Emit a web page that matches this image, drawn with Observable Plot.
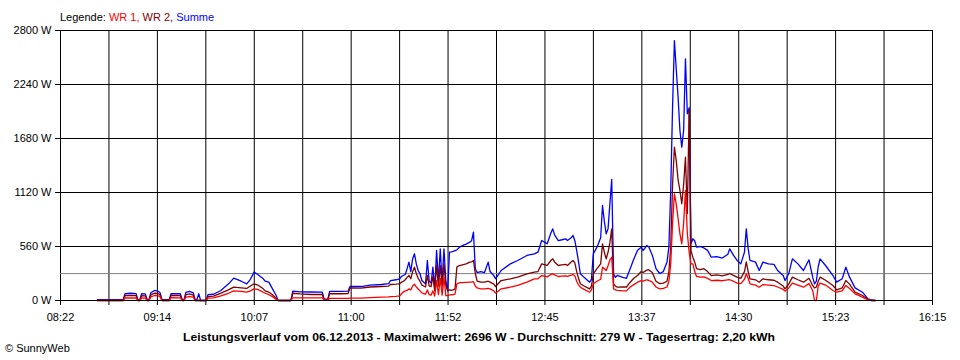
<!DOCTYPE html>
<html>
<head>
<meta charset="utf-8">
<script src="https://cdn.jsdelivr.net/npm/d3@7"></script>
<script src="https://cdn.jsdelivr.net/npm/@observablehq/plot@0.6"></script>
<style>
  html, body { margin: 0; padding: 0; background: #fff; }
  #chart { width: 960px; height: 360px; }
</style>
</head>
<body>
<div id="chart"></div>
<script>
// ---- data ----
const times = ["08:42","08:56","08:57","09:00","09:03","09:04","09:05","09:06","09:08","09:09","09:10","09:11","09:13","09:15","09:16","09:17","09:21","09:22","09:27","09:28","09:29","09:30","09:32","09:34","09:35","09:36","09:37","09:38","09:41","09:42","09:45","09:49","09:53","09:56","10:00","10:03","10:05","10:07","10:09","10:12","10:13","10:15","10:17","10:19","10:20","10:27","10:28","10:32","10:38","10:44","10:45","10:47","10:48","10:54","10:58","10:59","11:05","11:10","11:16","11:20","11:21","11:24","11:25","11:26","11:27","11:28","11:29","11:30","11:31","11:32","11:33","11:34","11:35","11:36","11:37","11:38","11:39","11:40","11:41","11:42","11:43","11:44","11:45","11:46","11:47","11:48","11:49","11:50","11:51","11:52","11:53","11:54","11:55","11:56","11:57","11:58","11:59","12:00","12:02","12:04","12:05","12:06","12:07","12:08","12:10","12:12","12:14","12:15","12:17","12:18","12:21","12:26","12:30","12:35","12:39","12:41","12:43","12:45","12:46","12:48","12:49","12:50","12:52","12:54","12:56","12:57","12:59","13:00","13:01","13:02","13:03","13:04","13:06","13:09","13:10","13:11","13:13","13:15","13:16","13:17","13:18","13:19","13:20","13:21","13:22","13:23","13:24","13:27","13:29","13:31","13:33","13:35","13:37","13:38","13:40","13:41","13:43","13:45","13:47","13:49","13:51","13:52","13:53","13:54","13:55","13:56","13:57","13:58","13:59","14:00","14:01","14:02","14:03","14:04","14:05","14:06","14:07","14:09","14:11","14:13","14:15","14:18","14:21","14:24","14:25","14:27","14:29","14:31","14:33","14:34","14:35","14:36","14:39","14:41","14:43","14:46","14:49","14:51","14:54","14:55","14:57","14:59","15:02","15:05","15:08","15:10","15:11","15:12","15:13","15:14","15:17","15:21","15:23","15:26","15:28","15:30","15:33","15:37","15:40","15:42","15:44"];

const summe = [10,12,70,75,72,5,5,70,68,10,10,80,104,95,80,10,10,72,70,10,10,85,95,80,10,10,70,0,0,60,65,104,170,232,200,173,220,294,270,225,200,190,120,52,0,0,97,90,88,86,15,15,95,95,97,145,145,160,166,175,207,215,220,225,250,259,270,330,398,300,432,484,380,311,277,207,190,173,415,200,180,346,121,520,200,536,180,536,207,100,501,505,510,518,525,545,560,570,585,605,620,709,330,290,300,290,398,300,260,225,311,380,415,467,484,501,622,600,588,700,743,680,622,630,640,622,650,674,620,518,400,277,240,190,220,484,553,650,985,820,691,743,1000,1255,277,240,260,240,230,330,430,520,553,518,570,560,470,330,280,300,400,553,1141,2005,2696,2400,2109,1763,1590,1763,2506,1936,2000,588,640,620,553,560,545,520,449,455,440,480,536,470,415,380,500,743,540,415,398,311,398,380,375,311,260,207,277,432,380,311,422,242,173,200,350,432,363,259,190,225,346,242,131,86,17,5,0];

const wr2 = [0,0,50,52,50,0,0,50,48,0,0,58,76,70,60,0,0,52,50,0,0,60,68,55,0,0,0,0,0,40,45,76,110,138,130,125,150,173,160,121,100,86,60,20,0,0,75,68,62,62,8,8,72,70,72,131,128,140,145,150,166,170,172,175,190,200,215,240,260,225,300,346,280,230,200,160,150,140,260,150,145,250,100,363,150,363,140,380,160,100,110,105,110,120,346,360,365,370,380,398,400,415,280,200,190,190,200,190,170,145,207,225,242,277,294,300,380,370,365,415,432,400,363,370,375,363,400,415,390,300,230,173,150,121,150,277,330,380,588,500,432,500,600,743,173,150,138,140,140,190,230,260,300,290,315,320,290,200,175,180,200,300,553,1200,1590,1450,1250,1141,1003,1200,1487,900,1980,518,449,400,330,320,330,300,259,265,255,270,280,260,242,230,300,400,300,225,215,190,225,215,210,190,150,121,170,242,215,190,230,156,130,140,200,242,210,156,111,130,207,170,86,52,10,0,0];

const wr1 = [0,0,26,28,26,0,0,26,25,0,0,38,52,48,40,0,0,30,28,0,0,35,40,35,0,0,0,0,0,25,28,48,75,100,95,86,100,121,115,86,75,60,40,10,0,0,28,28,28,28,5,5,22,22,22,25,25,30,35,38,40,42,45,48,70,90,100,104,120,110,150,170,140,120,100,80,70,65,110,60,55,100,45,207,60,230,55,242,52,50,55,60,60,65,173,180,185,185,188,190,190,195,150,130,121,121,125,121,100,76,121,138,156,190,225,225,259,250,245,270,277,265,249,252,255,249,262,270,255,200,160,138,115,86,110,173,200,220,346,330,311,360,420,449,120,110,104,100,100,140,165,190,207,200,215,210,190,140,121,125,140,200,380,800,1106,1000,850,691,588,800,1141,700,500,380,380,300,250,242,245,230,207,210,205,215,215,200,180,175,220,277,230,173,160,138,165,160,155,140,115,97,130,180,160,138,175,104,0,0,150,180,160,104,86,100,156,125,69,35,5,0,0];

const average = 279;                       // Durchschnitt (W)
const xLabels = ["08:22","09:14","10:07","11:00","11:52","12:45","13:37","14:30","15:23","16:15"];
const yTicks = [0, 560, 1120, 1680, 2240, 2800];
const seriesNames = ["WR 1", "WR 2", "Summe"];
const seriesColors = ["#ff0000", "#800000", "#0000ff"];
const caption = "Leistungsverlauf vom 06.12.2013 - Maximalwert: 2696 W - Durchschnitt: 279 W - Tagesertrag: 2,20 kWh";
const copyright = "\u00A9 SunnyWeb";

// ---- build ----
const toMin = s => { const [h, m] = s.split(":").map(Number); return h * 60 + m; };
const rows = times.map((t, i) => ({ t: toMin(t), wr1: wr1[i], wr2: wr2[i], summe: summe[i] }));

const x0 = toMin(xLabels[0]), x1 = toMin(xLabels[xLabels.length - 1]);
const nSteps = (xLabels.length - 1) * 2;
const step = (x1 - x0) / nSteps;
const xTicks = d3.range(nSteps + 1).map(k => x0 + k * step);
const xFmt = d => { const k = Math.round((d - x0) / step); return k % 2 ? "" : xLabels[k / 2]; };

const FONT = "'Liberation Sans', Arial, sans-serif";

const svg = Plot.plot({
  width: 960,
  height: 360,
  marginLeft: 60,
  marginRight: 28,
  marginTop: 30,
  marginBottom: 60,
  style: { fontFamily: FONT, fontSize: "11px", background: "#fff", color: "#000", overflow: "visible" },
  x: { domain: [x0, x1], label: null },
  y: { domain: [0, 2800], label: null },
  marks: [
    Plot.gridY(yTicks, { stroke: "#000", strokeOpacity: 1, strokeWidth: 1 }),
    Plot.gridX(xTicks, { stroke: "#000", strokeOpacity: 1, strokeWidth: 1 }),
    Plot.axisY(yTicks, { tickSize: 5, tickPadding: 4, tickFormat: d => d + " W", label: null }),
    Plot.axisX(xTicks, { tickSize: 5, tickPadding: 8, tickFormat: xFmt, label: null }),
    Plot.ruleY([average], { stroke: "#808080", strokeWidth: 1 }),
    Plot.line(rows, { x: "t", y: "summe", stroke: seriesColors[2], strokeWidth: 1.3, curve: "linear" }),
    Plot.line(rows, { x: "t", y: "wr2", stroke: seriesColors[1], strokeWidth: 1.3, curve: "linear" }),
    Plot.line(rows, { x: "t", y: "wr1", stroke: seriesColors[0], strokeWidth: 1.3, curve: "linear" }),
    Plot.ruleY([0], { stroke: "#000", strokeWidth: 1 })
  ]
});

const s = d3.select(svg);
// legend
const leg = s.append("text").attr("x", 60).attr("y", 21).attr("text-anchor", "start")
  .attr("font-size", 11).attr("font-family", FONT);
leg.append("tspan").attr("fill", "#000").text("Legende: ");
seriesNames.forEach((n, i) => {
  leg.append("tspan").attr("fill", seriesColors[i]).text(n + (i < seriesNames.length - 1 ? ", " : ""));
});
// caption
s.append("text").attr("x", 479).attr("y", 341).attr("text-anchor", "middle")
  .attr("font-size", 11).attr("font-weight", "bold")
  .attr("font-family", FONT)
  .attr("textLength", 592).attr("lengthAdjust", "spacingAndGlyphs")
  .attr("fill", "#000").text(caption);
// copyright
s.append("text").attr("x", 5).attr("y", 352).attr("text-anchor", "start")
  .attr("font-size", 11).attr("font-family", FONT)
  .attr("fill", "#000").text(copyright);

document.getElementById("chart").appendChild(svg);
</script>
</body>
</html>
